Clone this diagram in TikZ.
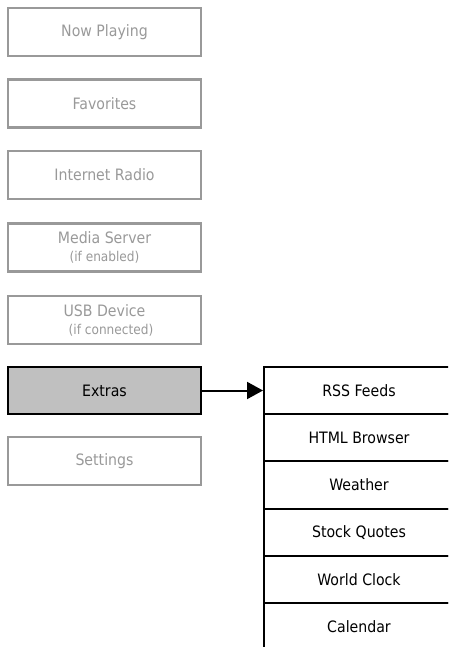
\documentclass[tikz,border=0pt]{standalone}
\usepackage{fontspec}
\setmainfont{DejaVu Sans Condensed}
\usetikzlibrary{arrows.meta}
\definecolor{dimgray}{HTML}{999999}
\definecolor{dimtext}{HTML}{999999}
\definecolor{selfill}{HTML}{C0C0C0}
\newcommand{\smalltxt}{\fontsize{13.5}{16}\selectfont}
\begin{document}
\begin{tikzpicture}[x=1pt,y=-1pt,
  menubox/.style={draw=dimgray,line width=2.6pt,text=dimtext,minimum width=193pt,minimum height=48pt,inner sep=0pt,align=center,font=\fontsize{15.7}{18}\selectfont},
  selbox/.style={draw=black,line width=2pt,fill=selfill,text=black,minimum width=193pt,minimum height=47pt,inner sep=0pt,font=\fontsize{15.7}{18}\selectfont},
  subbox/.style={draw=black,line width=2pt,minimum width=190pt,minimum height=47.2pt,inner sep=0pt,anchor=north west,font=\fontsize{15.7}{18}\selectfont}]
\useasboundingbox (0,0) rectangle (448,647);
\clip (0,0) rectangle (448,647);
\node[menubox] (np) at (104.5,32) {Now Playing};
\node[menubox] (fav) at (104.5,103.5) {Favorites};
\node[menubox] (ir) at (104.5,175) {Internet Radio};
\node[menubox] (ms) at (104.5,247.5) {Media Server\\[0pt]{\smalltxt(if enabled)}};
\node[menubox] (usb) at (104.5,320) {USB Device\\[0pt]{\smalltxt\hspace*{13pt}(if connected)}};
\node[selbox] (ext) at (104.5,390.5) {Extras};
\node[menubox] (set) at (104.5,461) {Settings};
\node[subbox] (rss) at (263,366) {RSS Feeds};
\node[subbox] (html) at (263,413.2) {HTML Browser};
\node[subbox] (wea) at (263,460.4) {Weather};
\node[subbox] (stk) at (263,507.6) {Stock Quotes};
\node[subbox] (wc) at (263,554.8) {World Clock};
\node[subbox] (cal) at (263,602) {Calendar};
\draw[line width=2pt,-{Triangle[length=16pt,width=17pt]}] (ext.east) -- (ext.east -| rss.west);
\end{tikzpicture}
\end{document}
